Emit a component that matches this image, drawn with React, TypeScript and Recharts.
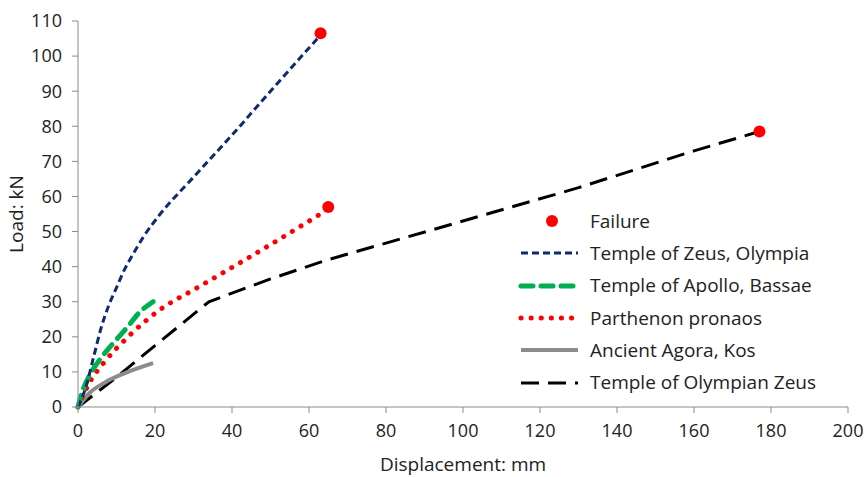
import React from 'react'
import {
  ComposedChart,
  Line,
  Scatter,
  XAxis,
  YAxis
} from 'recharts'

// Load-displacement curves (displacement mm, load kN)
const zeusOlympia = [
  { x: 0, y: 0 }, { x: 2, y: 5.5 }, { x: 4, y: 14 }, { x: 6, y: 22.5 },
  { x: 8, y: 29 }, { x: 10, y: 34 }, { x: 12, y: 39 }, { x: 14, y: 43 },
  { x: 17, y: 48.5 }, { x: 21, y: 54.5 }, { x: 30, y: 65.5 }, { x: 40, y: 77.5 },
  { x: 50, y: 90 }, { x: 63, y: 106 },
]

const apolloBassae = [
  { x: 0, y: 0 }, { x: 1, y: 4 }, { x: 3, y: 9 }, { x: 6, y: 14 },
  { x: 9, y: 18 }, { x: 13, y: 23 }, { x: 16, y: 27 }, { x: 19.5, y: 30 },
]

const parthenon = [
  { x: 0, y: 0 }, { x: 3, y: 7 }, { x: 7, y: 13 }, { x: 13, y: 20 },
  { x: 21, y: 27.5 }, { x: 31, y: 34 }, { x: 45, y: 43 }, { x: 63, y: 55 },
]

const agoraKos = [
  { x: 0, y: 0 }, { x: 3, y: 4 }, { x: 7, y: 7 }, { x: 13, y: 10 }, { x: 19.5, y: 12.5 },
]

const olympianZeus = [
  { x: 0, y: 0 }, { x: 10, y: 8.5 }, { x: 20, y: 17.5 }, { x: 34, y: 30 },
  { x: 50, y: 36.5 }, { x: 65, y: 42 }, { x: 100, y: 53 }, { x: 130, y: 62.5 },
  { x: 160, y: 73 }, { x: 177, y: 78.5 },
]

const failures = [
  { x: 63, y: 106.5 }, { x: 65, y: 57 }, { x: 177, y: 78.5 },
]

const xTicks = [0, 20, 40, 60, 80, 100, 120, 140, 160, 180, 200]
const yTicks = [0, 10, 20, 30, 40, 50, 60, 70, 80, 90, 100, 110]

const font = '"Open Sans", sans-serif'

const legendItems = [
  { name: 'Failure', kind: 'dot' },
  { name: 'Temple of Zeus, Olympia', stroke: '#0f2a6e', width: 3, dash: '7 4', cap: 'butt' },
  { name: 'Temple of Apollo, Bassae', stroke: '#00b050', width: 5, dash: '12 8', cap: 'round' },
  { name: 'Parthenon pronaos', stroke: '#ff0000', width: 5, dash: '0.1 10', cap: 'round' },
  { name: 'Ancient Agora, Kos', stroke: '#8c8c8c', width: 4, dash: undefined, cap: 'butt' },
  { name: 'Temple of Olympian Zeus', stroke: '#000000', width: 3, dash: '18 9', cap: 'butt' },
]

function LegendBox() {
  return (
    <div style={{ position: 'absolute', left: 518, top: 205, fontFamily: font, fontSize: 19, color: '#222', lineHeight: 1 }}>
      {legendItems.map((it: any) => (
        <div key={it.name} style={{ display: 'flex', alignItems: 'center', height: 32.3 }}>
          <svg width={62} height={14} style={{ marginRight: 10 }}>
            {it.kind === 'dot' ? (
              <circle cx={34} cy={7} r={6} fill="#ff0000" />
            ) : (
              <line x1={3} y1={7} x2={60} y2={7} stroke={it.stroke} strokeWidth={it.width}
                strokeDasharray={it.dash} strokeLinecap={it.cap} />
            )}
          </svg>
          <span style={{ whiteSpace: 'nowrap' }}>{it.name}</span>
        </div>
      ))}
    </div>
  )
}

export default function App() {
  return (
    <div style={{ position: 'absolute', left: 0, top: 0, width: 866, height: 477, background: '#fff' }}>
      <ComposedChart width={866} height={477} margin={{ top: 21, right: 18, left: 12, bottom: 24 }}>
        <XAxis
          type="number"
          dataKey="x"
          domain={[0, 200]}
          ticks={xTicks}
          stroke="#8a8a8a"
          tickSize={6}
          tick={{ fill: '#222', fontSize: 18, fontFamily: font }}
          tickMargin={11}
          height={46}
          label={{ value: 'Displacement: mm', position: 'insideBottom', offset: -18, fill: '#222', fontSize: 19, fontFamily: font }}
        />
        <YAxis
          type="number"
          dataKey="y"
          domain={[0, 110]}
          ticks={yTicks}
          stroke="#8a8a8a"
          tickSize={6}
          tick={{ fill: '#222', fontSize: 18, fontFamily: font }}
          tickMargin={10}
          width={66}
          label={{ value: 'Load: kN', angle: -90, position: 'insideLeft', offset: 0, dx: 4, fill: '#222', fontSize: 19, fontFamily: font, style: { textAnchor: 'middle' } }}
        />
        <Line data={olympianZeus} dataKey="y" type="linear" stroke="#000" strokeWidth={3}
          strokeDasharray="18 9" dot={false} isAnimationActive={false} />
        <Line data={agoraKos} dataKey="y" type="monotone" stroke="#8c8c8c" strokeWidth={4}
          dot={false} isAnimationActive={false} />
        <Line data={parthenon} dataKey="y" type="monotone" stroke="#ff0000" strokeWidth={5}
          strokeDasharray="0.1 10" strokeLinecap="round" dot={false} isAnimationActive={false} />
        <Line data={apolloBassae} dataKey="y" type="monotone" stroke="#00b050" strokeWidth={5}
          strokeDasharray="12 8" strokeLinecap="round" dot={false} isAnimationActive={false} />
        <Line data={zeusOlympia} dataKey="y" type="monotone" stroke="#0f2a6e" strokeWidth={3}
          strokeDasharray="7 4" dot={false} isAnimationActive={false} />
        <Scatter data={failures} dataKey="y" fill="#ff0000" shape={(p: any) => <circle cx={p.cx} cy={p.cy} r={6} fill="#ff0000" />}
          isAnimationActive={false} />
      </ComposedChart>
      <LegendBox />
    </div>
  )
}
